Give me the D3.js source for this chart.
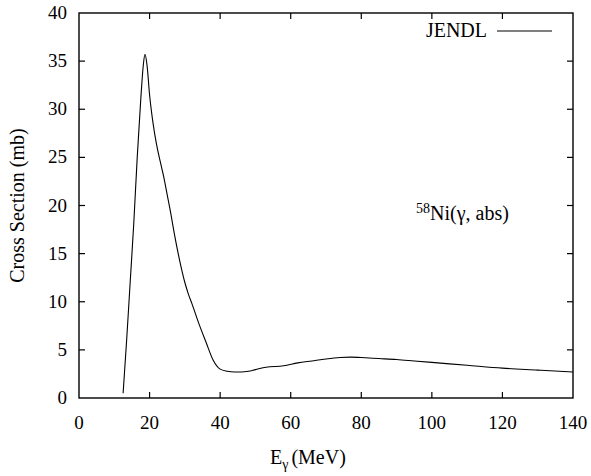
<!DOCTYPE html>
<html>
<head>
<meta charset="utf-8">
<script src="https://cdn.jsdelivr.net/npm/d3@7"></script>
<style>
  html, body { margin: 0; padding: 0; background: #fff; }
  svg { display: block; font-family: 'Liberation Serif', 'Times New Roman', serif; }
</style>
</head>
<body>
<svg id="chart" width="591" height="476" font-family="Liberation Serif"></svg>
<script>
const energy = [12.5, 13.5, 14.5, 15.5, 16.5, 17.5, 18.2, 18.7, 19.3, 20, 21, 22, 23, 24, 25, 26, 27, 28, 29, 30, 31, 32, 34, 36, 38, 40, 42, 44, 46, 48, 50, 53, 58, 62, 66, 70, 74, 77, 80, 85, 90, 95, 100, 110, 120, 130, 140];
const crossSection = [0.5, 6, 12, 18, 25, 31, 34.5, 35.7, 34.5, 31.5, 28.5, 26.3, 24.6, 23.0, 21.1, 19.2, 17.1, 15.2, 13.5, 12.0, 10.8, 9.8, 7.7, 5.8, 3.95, 3.0, 2.78, 2.7, 2.7, 2.78, 2.95, 3.2, 3.35, 3.65, 3.85, 4.05, 4.2, 4.25, 4.2, 4.1, 4.0, 3.85, 3.7, 3.4, 3.1, 2.9, 2.7];
const xTicks = [0, 20, 40, 60, 80, 100, 120, 140];
const yTicks = [0, 5, 10, 15, 20, 25, 30, 35, 40];
const seriesName = "JENDL";

const svg = d3.select("#chart");
const L = 79, R = 573, T = 13, B = 398;
const x = d3.scaleLinear().domain([0, 140]).range([L, R]);
const y = d3.scaleLinear().domain([0, 40]).range([B, T]);

function txt(sel, size) {
  return sel.attr("font-family", "Liberation Serif").style("font-family", "'Liberation Serif'").style("font-size", size + "px").attr("fill", "#000");
}
function run(x0, y0, pieces) {
  let cx = x0;
  pieces.forEach(p => {
    const t = txt(svg.append("text"), p.size).attr("x", cx).attr("y", y0 + (p.dy || 0)).text(p.s);
    cx += t.node().getComputedTextLength() + (p.gap || 0);
  });
  return cx - x0;
}

const tickLen = 6;
svg.append("rect").attr("x", L).attr("y", T).attr("width", R - L).attr("height", B - T)
  .attr("fill", "none").attr("stroke", "#000").attr("stroke-width", 1.4);

const innerX = xTicks.filter(d => d > 0 && d < 140);
const innerY = yTicks.filter(d => d > 0 && d < 40);
innerX.forEach(d => {
  svg.append("line").attr("x1", x(d)).attr("x2", x(d)).attr("y1", B).attr("y2", B - tickLen).attr("stroke", "#000").attr("stroke-width", 1.2);
  svg.append("line").attr("x1", x(d)).attr("x2", x(d)).attr("y1", T).attr("y2", T + tickLen).attr("stroke", "#000").attr("stroke-width", 1.2);
});
innerY.forEach(d => {
  svg.append("line").attr("x1", L).attr("x2", L + tickLen).attr("y1", y(d)).attr("y2", y(d)).attr("stroke", "#000").attr("stroke-width", 1.2);
  svg.append("line").attr("x1", R).attr("x2", R - tickLen).attr("y1", y(d)).attr("y2", y(d)).attr("stroke", "#000").attr("stroke-width", 1.2);
});

xTicks.forEach(d => {
  txt(svg.append("text"), 19).attr("x", x(d)).attr("y", B + 31).attr("text-anchor", "middle").text(x.tickFormat()(d));
});
yTicks.forEach(d => {
  txt(svg.append("text"), 19).attr("x", L - 12).attr("y", y(d) + 6).attr("text-anchor", "end").text(y.tickFormat()(d));
});

const line = d3.line().x((d, i) => x(energy[i])).y(d => y(d)).curve(d3.curveMonotoneX);
svg.append("path").datum(crossSection).attr("d", line)
  .attr("fill", "none").attr("stroke", "#000").attr("stroke-width", 1.1);

txt(svg.append("text"), 20).attr("x", 487).attr("y", 37).attr("text-anchor", "end").text(seriesName);
svg.append("line").attr("x1", 497).attr("x2", 552).attr("y1", 31).attr("y2", 31)
  .attr("stroke", "#000").attr("stroke-width", 1.1);

run(416, 220, [
  { s: "58", size: 14, dy: -7 },
  { s: "Ni(", size: 20 },
  { s: "γ", size: 20 },
  { s: ", abs)", size: 20 }
]);

run(270, 464, [
  { s: "E", size: 20 },
  { s: "γ", size: 14, dy: 5, gap: 3 },
  { s: "(MeV)", size: 20 }
]);

txt(svg.append("text"), 20).attr("transform", `translate(24,${(T + B) / 2}) rotate(-90)`)
  .attr("text-anchor", "middle").text("Cross Section (mb)");
</script>
</body>
</html>
